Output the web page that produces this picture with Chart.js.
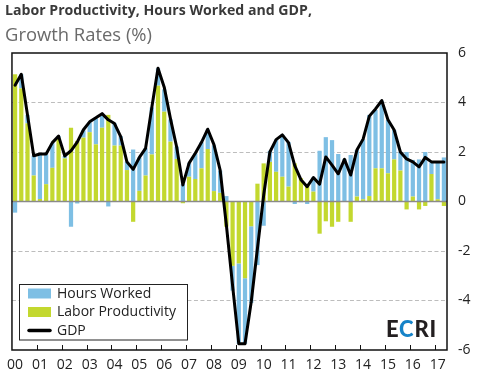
<!DOCTYPE html>
<html>
<head>
<meta charset="utf-8">
<script src="https://cdn.jsdelivr.net/npm/chart.js@4.4.0/dist/chart.umd.min.js"></script>
<style>
  html, body { margin: 0; padding: 0; background: #fff; }
  #wrap { position: relative; width: 495px; height: 375px; overflow: hidden; font-family: 'Open Sans', sans-serif; }
  #c { position: absolute; left: 0; top: 0; }
  #title { position: absolute; left: 5px; top: 3px; font-weight: 700; font-size: 15px; line-height: 1; color: #3a3a3a; white-space: nowrap; }
  #sub { position: absolute; left: 5px; top: 25px; font-weight: 400; font-size: 15px; line-height: 1; color: #6a6a6a; white-space: nowrap; }
  #logo { position: absolute; left: 386px; top: 318px; font-family: Lato, 'Open Sans', sans-serif; font-weight: 900; font-size: 22px; line-height: 1; color: #231f20; white-space: nowrap; letter-spacing: 0.8px; }
  #logo span { color: #1683c8; }
</style>
</head>
<body>
<div id="wrap">
  <canvas id="c" width="495" height="375" style="width:495px;height:375px"></canvas>
  <div id="title">Labor Productivity, Hours Worked and GDP,</div>
  <div id="sub">Growth Rates (%)</div>
  <div id="logo">E<span>C</span>RI</div>
</div>
<script>
// ---- data (quarterly, y/y %, 2000Q1 .. 2017Q2) ----
const years = ['00','01','02','03','04','05','06','07','08','09','10','11','12','13','14','15','16','17'];

const laborProductivity = [
  5.14, 4.57, 3.16, 1.05,   0.10, 0.70, 1.36, 2.55,   1.74, 2.98, 2.45, 2.58,
  2.80, 2.31, 2.98, 3.50,   2.26, 2.26, 1.27, -0.82,  0.43, 1.05, 1.90, 4.68,
  3.63, 2.42, 1.72, -0.07,  1.00, 0.91, 1.34, 2.12,   0.42, 0.35, -1.02, -2.60,
  -2.50, -3.10, -1.00, 0.72, 1.54, 1.60, 1.20, 1.00,  0.60, 1.54, 0.94, 0.62,
  0.40, -1.30, -0.80, -1.02, -0.82, 0.00, -0.82, 0.20, 0.09, 0.22, 1.34, 1.34,
  1.14, 1.70, 1.25, -0.32,  0.20, -0.32, -0.18, 1.11,  0.09, -0.18
];

const hoursWorked = [
  -0.45, 0.57, 0.34, 0.80,  1.80, 1.20, 1.00, 0.10,   0.10, -1.02, -0.08, 0.30,
  0.40, 1.05, 0.50, -0.20,  0.90, 0.38, 0.34, 2.10,   1.35, 1.10, 1.90, 0.70,
  0.90, 0.90, 0.50, 0.70,   0.55, 1.04, 1.05, 0.78,   1.85, 0.90, 0.22, -1.00,
  -3.25, -2.65, -3.10, -2.57, -0.98, 0.45, 1.30, 1.70, 1.80, -0.10, -0.03, -0.10,
  0.57, 2.05, 2.60, 2.48,   1.92, 1.72, 1.88, 1.88,   2.42, 3.28, 2.36, 2.73,
  2.16, 1.19, 0.75, 2.00,   1.48, 1.70, 2.00, 0.46,   1.48, 1.78
];

const gdp = [
  4.70, 5.14, 3.50, 1.85,   1.92, 1.92, 2.38, 2.64,   1.84, 2.05, 2.40, 2.90,
  3.22, 3.38, 3.55, 3.30,   3.15, 2.62, 1.60, 1.30,   1.78, 2.15, 3.80, 5.38,
  4.62, 3.35, 2.20, 0.67,   1.55, 1.95, 2.39, 2.92,   2.30, 1.27, -0.95, -3.40,
  -5.75, -5.75, -4.05, -1.90, 0.25, 2.00, 2.50, 2.69, 2.38, 1.45, 0.88, 0.60,
  0.97, 0.70, 1.80, 1.47,   1.12, 1.70, 1.07, 2.08,   2.52, 3.45, 3.74, 4.08,
  3.30, 2.89, 2.00, 1.72,   1.60, 1.40, 1.78, 1.60,   1.60, 1.60
];

const yTickStep = 2;
const yMin = -6, yMax = 6;

// category labels: one per quarter
const quarters = [];
years.forEach(yy => { for (let q = 1; q <= 4; q++) quarters.push('20' + yy + 'Q' + q); });
quarters.length = gdp.length;

// ---- styling ----
const FONT = "'Open Sans', sans-serif";
const BLUE = '#7ebfe4';
const GREEN = '#c3d82f';
const TEXT = '#222222';
const GRID = '#bdbdbd';
const ZERO = '#8a8a8a';

// fit title widths to the reference
function fitText(id, targetWidth) {
  const el = document.getElementById(id);
  const w = el.getBoundingClientRect().width;
  const fs = parseFloat(getComputedStyle(el).fontSize);
  el.style.fontSize = (fs * targetWidth / w).toFixed(2) + 'px';
}
fitText('title', 307);
fitText('sub', 147);

const decor = {
  id: 'decor',
  afterDatasetDraw(chart, args) {
    if (args.index !== 0) return; // after the last-drawn bar dataset
    const { ctx, chartArea: a, scales: { y } } = chart;
    const y0 = y.getPixelForValue(0);
    ctx.save();
    ctx.strokeStyle = ZERO;
    ctx.lineWidth = 1.5;
    ctx.beginPath();
    ctx.moveTo(a.left, y0);
    ctx.lineTo(a.right, y0);
    ctx.stroke();
    ctx.restore();
  },
  afterDraw(chart) {
    const { ctx, chartArea: a, scales: { x } } = chart;
    ctx.save();
    // frame
    ctx.strokeStyle = '#111';
    ctx.lineWidth = 1.5;
    ctx.strokeRect(a.left, a.top, a.right - a.left, a.bottom - a.top);
    // year ticks (inside, from the bottom)
    ctx.lineWidth = 1;
    for (let i = 4; i < quarters.length; i += 4) {
      const px = Math.round((x.getPixelForValue(i - 1) + x.getPixelForValue(i)) / 2) + 0.5;
      ctx.beginPath();
      ctx.moveTo(px, a.bottom);
      ctx.lineTo(px, a.bottom - 5);
      ctx.stroke();
    }
    // legend box
    const bx = 19.5, by = 284.5, bw = 168, bh = 55.5;
    ctx.fillStyle = '#fff';
    ctx.fillRect(bx, by, bw, bh);
    ctx.strokeStyle = '#222';
    ctx.lineWidth = 1;
    ctx.strokeRect(bx, by, bw, bh);
    const ds = chart.data.datasets;
    const items = [ds[1], ds[0], ds[2]];
    const rowsY = [293.5, 312, 330.5];
    ctx.font = '14px ' + FONT;
    ctx.textBaseline = 'middle';
    ctx.textAlign = 'left';
    items.forEach((d, k) => {
      const cy = rowsY[k];
      if (d.type === 'line') {
        ctx.strokeStyle = d.borderColor;
        ctx.lineWidth = 3.5;
        ctx.lineCap = 'round';
        ctx.beginPath();
        ctx.moveTo(29, cy);
        ctx.lineTo(50, cy);
        ctx.stroke();
      } else {
        ctx.fillStyle = d.backgroundColor;
        ctx.fillRect(28, cy - 5, 23, 10);
      }
      ctx.fillStyle = TEXT;
      ctx.fillText(d.label, 57, cy + 0.5);
    });
    ctx.restore();
  }
};

new Chart(document.getElementById('c'), {
  type: 'bar',
  data: {
    labels: quarters,
    datasets: [
      { type: 'bar', label: 'Labor Productivity', data: laborProductivity, backgroundColor: GREEN,
        stack: 'bars', order: 1, categoryPercentage: 0.68, barPercentage: 1 },
      { type: 'bar', label: 'Hours Worked', data: hoursWorked, backgroundColor: BLUE,
        stack: 'bars', order: 1, categoryPercentage: 0.68, barPercentage: 1 },
      { type: 'line', label: 'GDP', data: gdp, borderColor: '#000000', borderWidth: 3,
        pointRadius: 0, tension: 0, stack: 'gdp', order: 0,
        borderJoinStyle: 'round', borderCapStyle: 'round' }
    ]
  },
  options: {
    responsive: false,
    animation: false,
    devicePixelRatio: 1,
    layout: { padding: { left: 9, top: 53, right: 0, bottom: 0 } },
    plugins: { legend: { display: false }, tooltip: { enabled: false }, title: { display: false } },
    scales: {
      x: {
        stacked: true,
        grid: { display: false, drawTicks: false },
        border: { display: false },
        ticks: {
          autoSkip: false, maxRotation: 0, minRotation: 0, padding: 7,
          font: { size: 14, family: FONT }, color: TEXT,
          callback: (v, i) => (i % 4 === 0 ? years[i / 4] : '')
        },
        afterFit: s => { s.height = 25; }
      },
      y: {
        position: 'right',
        stacked: true,
        min: yMin, max: yMax,
        ticks: { stepSize: yTickStep, padding: 11, font: { size: 14, family: FONT }, color: TEXT },
        grid: {
          drawTicks: false,
          lineWidth: 1,
          color: c => (c.tick && Math.abs(c.tick.value) === 6 ? 'rgba(0,0,0,0)' : (c.tick && c.tick.value === 0 ? ZERO : GRID))
        },
        border: { display: false, dash: [4, 2.5] },
        afterFit: s => { s.width = 48; }
      }
    }
  },
  plugins: [decor]
});
</script>
</body>
</html>
